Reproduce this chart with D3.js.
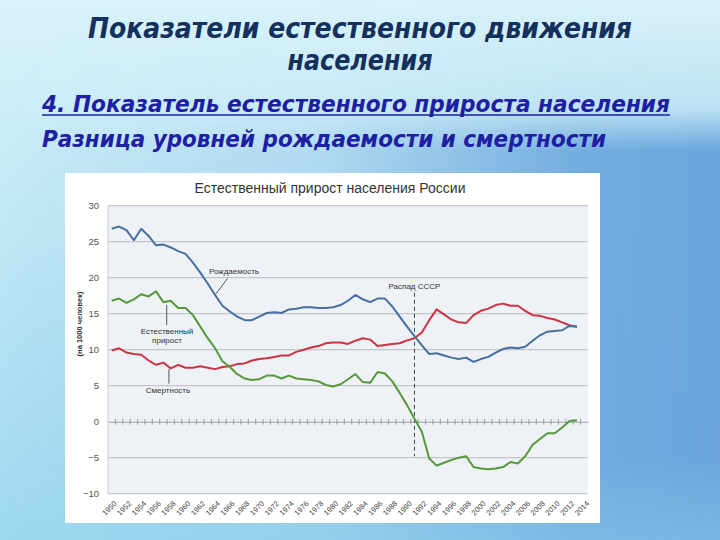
<!DOCTYPE html>
<html><head><meta charset="utf-8">
<script src="https://cdn.jsdelivr.net/npm/d3@7"></script>
<style>html,body{margin:0;padding:0;overflow:hidden;background:#cfeef8}</style>
</head><body>
<script>
const years = [1950,1951,1952,1953,1954,1955,1956,1957,1958,1959,1960,1961,1962,1963,1964,1965,1966,1967,1968,1969,1970,1971,1972,1973,1974,1975,1976,1977,1978,1979,1980,1981,1982,1983,1984,1985,1986,1987,1988,1989,1990,1991,1992,1993,1994,1995,1996,1997,1998,1999,2000,2001,2002,2003,2004,2005,2006,2007,2008,2009,2010,2011,2012,2013,2014];
const birthRate = [26.8,27.1,26.6,25.2,26.8,25.8,24.5,24.6,24.2,23.7,
  23.3,22.1,20.7,19.2,17.6,16.1,15.3,14.6,14.1,14.1,
  14.6,15.1,15.2,15.1,15.6,15.7,15.9,15.9,15.8,15.8,
  15.9,16.2,16.8,17.6,17.0,16.6,17.1,17.1,16.0,14.6,
  13.2,11.9,10.6,9.4,9.5,9.2,8.9,8.7,8.9,8.3,
  8.7,9.0,9.6,10.1,10.3,10.2,10.4,11.25,12.0,12.5,
  12.6,12.7,13.3,13.2];
const deathRate = [9.9,10.2,9.6,9.4,9.3,8.5,7.9,8.2,7.4,7.9,
  7.5,7.5,7.7,7.5,7.3,7.6,7.7,8.0,8.1,8.5,
  8.7,8.8,9.0,9.2,9.2,9.7,10.0,10.3,10.5,10.9,
  11.0,11.0,10.8,11.25,11.6,11.4,10.5,10.65,10.8,10.9,
  11.3,11.6,12.4,14.1,15.6,14.9,14.2,13.8,13.7,14.8,
  15.4,15.7,16.2,16.4,16.1,16.1,15.4,14.8,14.7,14.4,
  14.2,13.8,13.4,13.2];
const naturalIncrease = [16.8,17.1,16.5,17.0,17.7,17.4,18.1,16.6,16.8,15.8,
  15.8,14.8,13.2,11.6,10.2,8.4,7.6,6.6,6.0,5.8,
  5.9,6.4,6.4,6.0,6.4,6.0,5.9,5.8,5.6,5.1,
  4.9,5.2,5.9,6.6,5.5,5.4,6.9,6.7,5.6,4.0,
  2.3,0.4,-1.4,-5.1,-6.1,-5.7,-5.3,-5.0,-4.8,-6.3,
  -6.5,-6.6,-6.5,-6.3,-5.6,-5.8,-4.8,-3.2,-2.4,-1.6,
  -1.6,-0.8,0.1,0.2];
const yTicks = [30,25,20,15,10,5,0,-5,-10];
const xTickLabels = [1950,1952,1954,1956,1958,1960,1962,1964,1966,1968,1970,1972,1974,1976,1978,1980,1982,1984,1986,1988,1990,1992,1994,1996,1998,2000,2002,2004,2006,2008,2010,2012,2014];
const seriesNames = ["Рождаемость","Смертность","Естественный прирост"];

const W = 720, H = 540;
const svg = d3.select("body").append("svg").attr("width", W).attr("height", H);
const defs = svg.append("defs");

// background
const g1 = defs.append("linearGradient").attr("id","bgv").attr("x1",0).attr("y1",0).attr("x2",0).attr("y2",1);
g1.append("stop").attr("offset","0").attr("stop-color","#d8f2fa");
g1.append("stop").attr("offset","1").attr("stop-color","#9ed8f0");
const g2 = defs.append("linearGradient").attr("id","bgh").attr("x1",0).attr("y1",0).attr("x2",1).attr("y2",0);
g2.append("stop").attr("offset","0").attr("stop-color","#6aa6dc").attr("stop-opacity",0);
g2.append("stop").attr("offset","0.45").attr("stop-color","#6aa6dc").attr("stop-opacity",0.25);
g2.append("stop").attr("offset","0.8").attr("stop-color","#6aa6dc").attr("stop-opacity",0.9);
g2.append("stop").attr("offset","1").attr("stop-color","#6aa6dc").attr("stop-opacity",1);
const gm = defs.append("linearGradient").attr("id","mv").attr("x1",0).attr("y1",0).attr("x2",0).attr("y2",1);
gm.append("stop").attr("offset","0").attr("stop-color","#fff").attr("stop-opacity",0);
gm.append("stop").attr("offset","0.2").attr("stop-color","#fff").attr("stop-opacity",0.15);
gm.append("stop").attr("offset","0.28").attr("stop-color","#fff").attr("stop-opacity",1);
gm.append("stop").attr("offset","0.85").attr("stop-color","#fff").attr("stop-opacity",1);
gm.append("stop").attr("offset","1").attr("stop-color","#fff").attr("stop-opacity",0.7);
defs.append("mask").attr("id","mk").append("rect").attr("width",W).attr("height",H).attr("fill","url(#mv)");
svg.append("rect").attr("width",W).attr("height",H).attr("fill","url(#bgv)");
svg.append("rect").attr("width",W).attr("height",H).attr("fill","url(#bgh)").attr("mask","url(#mk)");

// slide titles
const titleFont = "'Liberation Sans Narrow','DejaVu Sans Condensed','Liberation Sans',Arial,sans-serif";
svg.append("text").attr("x",360).attr("y",38).attr("text-anchor","middle")
  .attr("font-family",titleFont).attr("font-weight","bold").attr("font-style","italic")
  .attr("font-size",29).attr("fill","#14305c")
  .attr("textLength",544).attr("lengthAdjust","spacingAndGlyphs")
  .text("Показатели естественного движения");
svg.append("text").attr("x",360).attr("y",70).attr("text-anchor","middle")
  .attr("font-family",titleFont).attr("font-weight","bold").attr("font-style","italic")
  .attr("font-size",29).attr("fill","#14305c")
  .attr("textLength",145).attr("lengthAdjust","spacingAndGlyphs")
  .text("населения");
svg.append("text").attr("x",42).attr("y",112)
  .attr("font-family",titleFont).attr("font-weight","bold").attr("font-style","italic")
  .attr("font-size",23).attr("fill","#1e1fa3")
  .attr("textLength",628).attr("lengthAdjust","spacingAndGlyphs")
  .text("4. Показатель естественного прироста населения");
svg.append("line").attr("x1",42).attr("x2",670).attr("y1",115).attr("y2",115)
  .attr("stroke","#1e1fa3").attr("stroke-width",1.6);
svg.append("text").attr("x",42).attr("y",147)
  .attr("font-family",titleFont).attr("font-weight","bold").attr("font-style","italic")
  .attr("font-size",23).attr("fill","#1e1fa3")
  .attr("textLength",564).attr("lengthAdjust","spacingAndGlyphs")
  .text("Разница уровней рождаемости и смертности");

// chart box
svg.append("rect").attr("x",65).attr("y",173).attr("width",535).attr("height",350).attr("fill","#ffffff");

const chartFont = "'Liberation Sans',Arial,sans-serif";
svg.append("text").attr("x",330).attr("y",193).attr("text-anchor","middle")
  .attr("font-family",chartFont).attr("font-size",14).attr("fill","#333")
  .text("Естественный прирост населения России");

const pLeft = 108, pRight = 588, pTop = 205.7, pBottom = 493.7;
const x = d3.scaleBand().domain(years).range([pLeft,pRight]).padding(0);
const xc = yr => x(yr) + x.bandwidth()/2;
const xl = d3.scaleLinear().domain([1950,2014]).range([xc(1950), xc(2014)]);
const y = d3.scaleLinear().domain([-10,30]).range([pBottom, pTop]);

svg.append("rect").attr("x",pLeft).attr("y",pTop).attr("width",pRight-pLeft).attr("height",pBottom-pTop).attr("fill","#eef1f6");

// gridlines
svg.append("g").selectAll("line").data(yTicks.filter(v=>v!==0)).join("line")
  .attr("x1",pLeft).attr("x2",pRight).attr("y1",d=>y(d)).attr("y2",d=>y(d))
  .attr("stroke","#b9bcc2").attr("stroke-width",1);
svg.append("line").attr("x1",pLeft).attr("x2",pLeft).attr("y1",pTop).attr("y2",pBottom).attr("stroke","#c8cbd0");

// y axis labels
const yAxis = d3.axisLeft(y).tickValues(yTicks).tickSize(0).tickPadding(9);
const ya = svg.append("g").attr("transform",`translate(${pLeft},0)`).call(yAxis);
ya.select(".domain").remove();
ya.selectAll("text").attr("font-family",chartFont).attr("font-size",9.5).attr("fill","#555");

svg.append("text").attr("transform",`translate(82,324) rotate(-90)`).attr("text-anchor","middle")
  .attr("font-family",chartFont).attr("font-size",7.5).attr("font-weight","bold").attr("fill","#333")
  .text("(на 1000 человек)");

// zero axis with ticks
const zeroAxis = d3.axisBottom(x).tickValues([]).tickSize(0);
const za = svg.append("g").attr("transform",`translate(0,${y(0)})`).call(zeroAxis);
za.select(".domain").attr("stroke","#9a9da3");
svg.append("g").selectAll("line").data(years.slice(1)).join("line")
  .attr("x1",d=>x(d)).attr("x2",d=>x(d)).attr("y1",y(0)-3).attr("y2",y(0)+3)
  .attr("stroke","#9a9da3").attr("stroke-width",1);

// x tick labels
const xg = svg.append("g");
xg.selectAll("text").data(xTickLabels).join("text")
  .attr("transform",d=>`translate(${xc(d)+4},${pBottom+9}) rotate(-45)`)
  .attr("text-anchor","end").attr("dominant-baseline","middle")
  .attr("font-family",chartFont).attr("font-size",7.5).attr("fill","#444")
  .text(d=>d);

// dashed line USSR
svg.append("line").attr("x1",xc(1991)).attr("x2",xc(1991)).attr("y1",y(17.9)).attr("y2",y(-4.8))
  .attr("stroke","#444").attr("stroke-width",1).attr("stroke-dasharray","4,3");
svg.append("text").attr("x",xc(1991)).attr("y",289).attr("text-anchor","middle")
  .attr("font-family",chartFont).attr("font-size",8).attr("fill","#333").text("Распад СССР");

// lines
const dataYears = years.slice(0, birthRate.length);
const line = d3.line().x((d,i)=>xc(dataYears[i])).y(d=>y(d)).curve(d3.curveLinear);
const series = [
  {vals: deathRate, color:"#cc3340"},
  {vals: naturalIncrease, color:"#55993a"},
  {vals: birthRate, color:"#46709f"}
];
svg.append("g").selectAll("path").data(series).join("path")
  .attr("d",d=>line(d.vals)).attr("fill","none").attr("stroke",d=>d.color)
  .attr("stroke-width",2).attr("stroke-linejoin","round");

// annotations
const ann = svg.append("g").attr("font-family",chartFont).attr("font-size",8).attr("fill","#333");
ann.append("line").attr("x1",xl(1965.7)).attr("y1",y(19.9)).attr("x2",xl(1964.0)).attr("y2",y(17.6))
  .attr("stroke","#555").attr("stroke-width",1);
ann.append("text").attr("x",234).attr("y",274).attr("text-anchor","middle").text(seriesNames[0]);
ann.append("line").attr("x1",xl(1957.45)).attr("x2",xl(1957.45)).attr("y1",y(16.2)).attr("y2",y(13.4))
  .attr("stroke","#555").attr("stroke-width",1);
ann.append("text").attr("x",167).attr("y",334).attr("text-anchor","middle").text("Естественный");
ann.append("text").attr("x",167).attr("y",343).attr("text-anchor","middle").text("прирост");
ann.append("line").attr("x1",xl(1957.75)).attr("x2",xl(1957.75)).attr("y1",y(7.3)).attr("y2",y(5.3))
  .attr("stroke","#555").attr("stroke-width",1);
ann.append("text").attr("x",168).attr("y",393).attr("text-anchor","middle").text(seriesNames[1]);
</script>
</body></html>
